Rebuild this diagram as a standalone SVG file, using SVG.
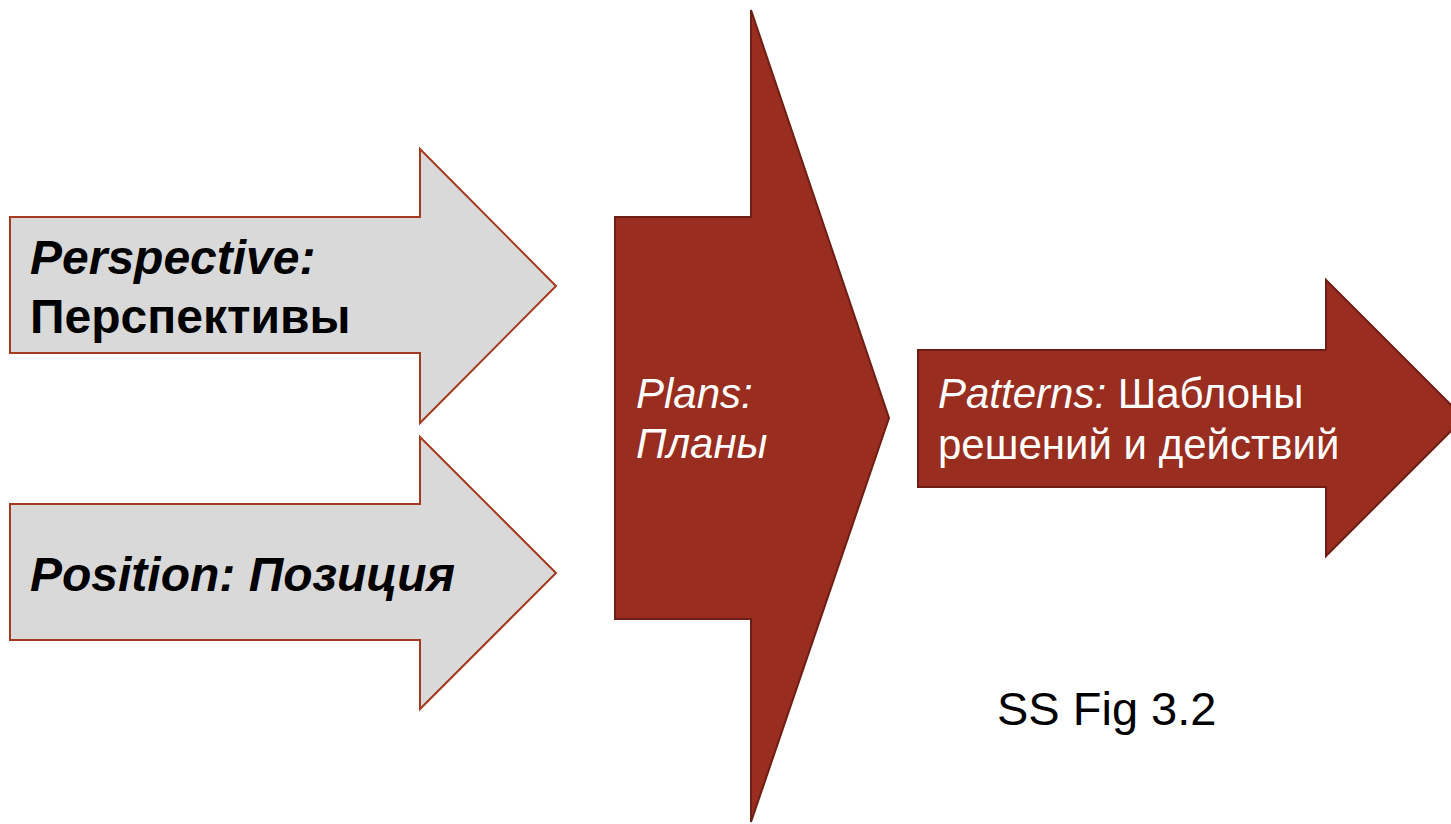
<svg xmlns="http://www.w3.org/2000/svg" width="1451" height="824" viewBox="0 0 1451 824">
  <style>
    .grey { fill: #d9d9d9; stroke: #a33b1e; stroke-width: 2; }
    .red { fill: #992d1f; stroke: #6f1e15; stroke-width: 2; }
    .lbl { font-family: "Liberation Sans", Arial, sans-serif; }
    .dark { fill: #000000; font-weight: bold; font-size: 48px; }
    .light { fill: #ffffff; font-size: 42px; }
    .it { font-style: italic; }
  </style>
  <rect width="1451" height="824" fill="#ffffff"/>

  <g id="perspective">
    <polygon class="grey" points="10,217 420,217 420,149 556,286 420,423 420,353 10,353"/>
    <text class="lbl dark" x="30" y="274"><tspan class="it">Perspective:</tspan></text>
    <text class="lbl dark" x="30" y="333">Перспективы</text>
  </g>

  <g id="position">
    <polygon class="grey" points="10,504 420,504 420,437 556,573 420,709 420,640 10,640"/>
    <text class="lbl dark it" x="30" y="591">Position: Позиция</text>
  </g>

  <g id="plans">
    <polygon class="red" points="615,217 751,217 751,10 889,418 751,822 751,619 615,619"/>
    <text class="lbl light it" x="636" y="408">Plans:</text>
    <text class="lbl light it" x="636" y="458">Планы</text>
  </g>

  <g id="patterns">
    <polygon class="red" points="918,350 1326,350 1326,280 1464,418 1326,556 1326,487 918,487"/>
    <text class="lbl light" x="938" y="408"><tspan class="it">Patterns:</tspan> Шаблоны</text>
    <text class="lbl light" x="938" y="459">решений и действий</text>
  </g>

  <g id="caption">
    <text class="lbl" x="997" y="725" font-size="47" fill="#000000">SS Fig 3.2</text>
  </g>
</svg>
